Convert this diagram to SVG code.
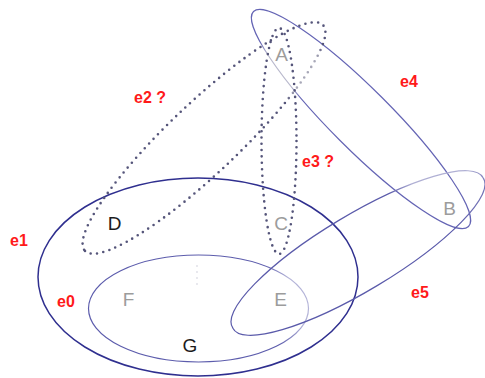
<svg xmlns="http://www.w3.org/2000/svg" width="485" height="378" viewBox="0 0 485 378">
<style>
.solid{fill:none;stroke-width:1.2}
.dotted{fill:none;stroke-width:2.6;stroke-dasharray:0 6.4;stroke-linecap:round}
.node{font-family:"Liberation Sans",Arial,sans-serif;font-size:19px;text-anchor:middle}
.grey{fill:#9c9c9c}
.dark{fill:#1c1c1c}
.lbl{font-family:"Liberation Sans",Arial,sans-serif;font-size:16px;font-weight:bold;fill:#ff1a1a}
</style>
<defs>
<radialGradient id="g0" gradientUnits="userSpaceOnUse" cx="300" cy="300" r="50">
<stop offset="0.5" stop-color="#b4b4d8"/><stop offset="1" stop-color="#5c5cac"/>
</radialGradient>
<radialGradient id="g4" gradientUnits="userSpaceOnUse" cx="280" cy="70" r="34">
<stop offset="0.6" stop-color="#b8b8cc"/><stop offset="1" stop-color="#6464b4"/>
</radialGradient>
<radialGradient id="g5" gradientUnits="userSpaceOnUse" cx="440" cy="172" r="55">
<stop offset="0.55" stop-color="#b0b0d4"/><stop offset="1" stop-color="#5a5aaa"/>
</radialGradient>
<radialGradient id="g2" gradientUnits="userSpaceOnUse" cx="300" cy="70" r="34">
<stop offset="0.6" stop-color="#a8a8b8"/><stop offset="1" stop-color="#55557a"/>
</radialGradient>
</defs>
<g id="edges">
<g id="e1">
<ellipse cx="198" cy="277" rx="160" ry="99" fill="none" stroke="#2f2f8f" stroke-width="1.5"/>
<text class="lbl" x="10" y="246">e1</text>
</g>
<g id="e0">
<ellipse class="solid" cx="198.5" cy="308.5" rx="110" ry="53.5" stroke="url(#g0)"/>
<text class="lbl" x="57" y="307">e0</text>
</g>
<g id="e4">
<path class="solid" stroke="url(#g4)" d="M253.5,11.5 A152,30 45 1,0 468.5,226.5 A152,30 45 1,0 253.5,11.5 Z"/>
<text class="lbl" x="400" y="87">e4</text>
</g>
<g id="e5">
<path class="solid" stroke="url(#g5)" d="M232.9,328.2 A146,37 -31 1,0 483.1,177.8 A146,37 -31 1,0 232.9,328.2 Z"/>
<text class="lbl" x="411" y="298">e5</text>
</g>
<g id="e2">
<path class="dotted" stroke="url(#g2)" d="M85,250.9 A164,35 -43.5 1,0 323,25.1 A164,35 -43.5 1,0 85,250.9 Z"/>
<text class="lbl" x="134" y="103">e2 ?</text>
</g>
<g id="e3">
<ellipse class="dotted" cx="279" cy="141" rx="17.5" ry="113" stroke="#55557a"/>
<text class="lbl" x="302" y="167">e3 ?</text>
</g>
<line x1="197" y1="266" x2="197" y2="290" stroke="#cacad8" stroke-width="1.6" stroke-dasharray="0 6" stroke-linecap="round"/>
</g>
<g id="node-A"><text class="node grey" x="281.5" y="61">A</text></g>
<g id="node-B"><text class="node grey" x="449.5" y="215">B</text></g>
<g id="node-C"><text class="node grey" x="281" y="230">C</text></g>
<g id="node-D"><text class="node dark" x="114.5" y="230">D</text></g>
<g id="node-E"><text class="node grey" x="280.5" y="306">E</text></g>
<g id="node-F"><text class="node grey" x="128.5" y="306">F</text></g>
<g id="node-G"><text class="node dark" x="190" y="352">G</text></g>
</svg>
